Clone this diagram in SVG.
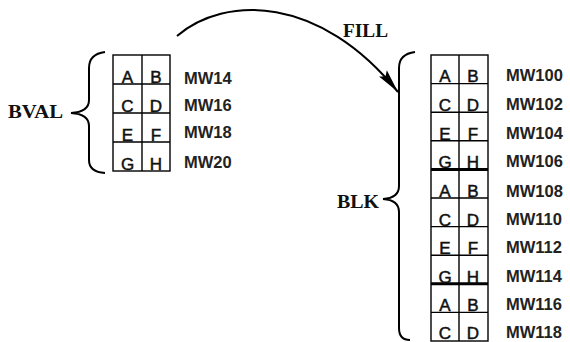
<svg xmlns="http://www.w3.org/2000/svg" width="570" height="342" viewBox="0 0 570 342">
<style>
.grid{fill:none;stroke:#000;stroke-width:1.4}
.thick{stroke:#000;stroke-width:3}
.brace{fill:none;stroke:#000;stroke-width:2}
.cell{font-family:"Liberation Sans",Arial,sans-serif;font-size:17px;fill:#111;stroke:#111;stroke-width:0.5;text-anchor:middle}
.addr{font-family:"Liberation Sans",Arial,sans-serif;font-size:16.5px;font-weight:bold;fill:#222}
.lbl{font-family:"Liberation Serif","Times New Roman",serif;font-size:18px;font-weight:bold;fill:#111}
</style>
<defs>
<marker id="ah" viewBox="0 0 24 11" refX="24" refY="5.5" markerWidth="24" markerHeight="11" markerUnits="userSpaceOnUse" orient="auto">
<path d="M0,0.5 L24,5.5 L0,10.5 L4,5.5 Z" fill="#000"/>
</marker>
</defs>
<rect width="570" height="342" fill="#fff"/>

<g id="bval">
<path class="brace" d="M105,52 Q89,54 89,68 L89,100 Q89,112 71,113 Q89,114 89,126 L89,160 Q89,172 105,173"/>
<text class="lbl" x="8" y="118" textLength="55" lengthAdjust="spacingAndGlyphs">BVAL</text>
<rect class="grid" x="113" y="55" width="57" height="116"/>
<path class="grid" d="M142,55 V171 M113,84 H170 M113,113 H170 M113,142 H170"/>
<text class="cell" x="127.5" y="83">A</text><text class="cell" x="156" y="83">B</text>
<text class="cell" x="127.5" y="112">C</text><text class="cell" x="156" y="112">D</text>
<text class="cell" x="127.5" y="141">E</text><text class="cell" x="156" y="141">F</text>
<text class="cell" x="127.5" y="170">G</text><text class="cell" x="156" y="170">H</text>
<text class="addr" x="184" y="84">MW14</text>
<text class="addr" x="184" y="111">MW16</text>
<text class="addr" x="184" y="138">MW18</text>
<text class="addr" x="184" y="168">MW20</text>
</g>

<g id="blk">
<path class="brace" d="M415,52 Q399,54 399,68 L399,186 Q399,198 383,199 Q399,200 399,212 L399,328 Q399,340 410,340"/>
<text class="lbl" x="337" y="208" textLength="42" lengthAdjust="spacingAndGlyphs">BLK</text>
<rect class="grid" x="431" y="55" width="57" height="286"/>
<path class="grid" d="M459,55 V341 M431,83.6 H488 M431,112.2 H488 M431,140.8 H488 M431,198 H488 M431,226.6 H488 M431,255.2 H488 M431,312.4 H488"/>
<path class="thick" d="M431,169.4 H488 M431,283.8 H488"/>
<text class="cell" x="445" y="82">A</text><text class="cell" x="473" y="82">B</text>
<text class="cell" x="445" y="111">C</text><text class="cell" x="473" y="111">D</text>
<text class="cell" x="445" y="140">E</text><text class="cell" x="473" y="140">F</text>
<text class="cell" x="445" y="168">G</text><text class="cell" x="473" y="168">H</text>
<text class="cell" x="445" y="197">A</text><text class="cell" x="473" y="197">B</text>
<text class="cell" x="445" y="226">C</text><text class="cell" x="473" y="226">D</text>
<text class="cell" x="445" y="254">E</text><text class="cell" x="473" y="254">F</text>
<text class="cell" x="445" y="283">G</text><text class="cell" x="473" y="283">H</text>
<text class="cell" x="445" y="311">A</text><text class="cell" x="473" y="311">B</text>
<text class="cell" x="445" y="338.5">C</text><text class="cell" x="473" y="338.5">D</text>
<text class="addr" x="506" y="81">MW100</text>
<text class="addr" x="506" y="110">MW102</text>
<text class="addr" x="506" y="139">MW104</text>
<text class="addr" x="506" y="167">MW106</text>
<text class="addr" x="506" y="197">MW108</text>
<text class="addr" x="506" y="225">MW110</text>
<text class="addr" x="506" y="253">MW112</text>
<text class="addr" x="506" y="282">MW114</text>
<text class="addr" x="506" y="310">MW116</text>
<text class="addr" x="506" y="338">MW118</text>
</g>

<g id="connectors">
<path d="M177,36 C225,-5 320,-5 398,92" fill="none" stroke="#000" stroke-width="2" marker-end="url(#ah)"/>
<text class="lbl" x="343" y="37" textLength="45" lengthAdjust="spacingAndGlyphs">FILL</text>
</g>
</svg>
